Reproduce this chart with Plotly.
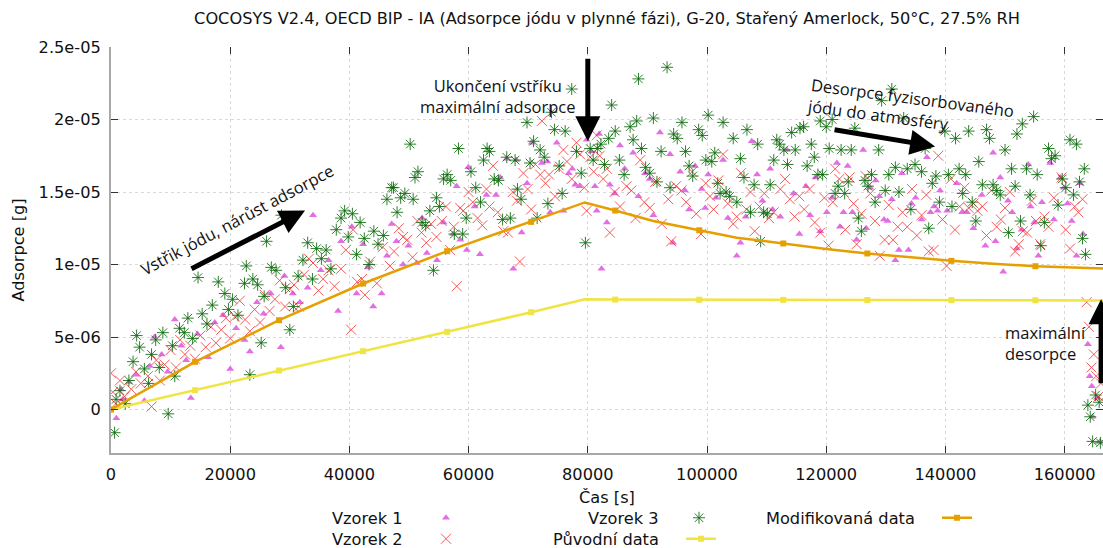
import plotly.graph_objects as go

# ---------------- data (time [s], adsorption [1e-6 g]) ----------------
vzorek1 = [
    (900, -0.6), (1700, 1.4), (2000, 0.7), (3000, 1.9), (4200, 2.4), (5600, 0.6), (6500, 3.0), (7300, 5.0),
    (8500, 3.8), (9500, 2.6), (10700, 6.2), (11800, 4.4), (12600, 3.4), (13400, 0.8), (14500, 5.2), (16300, 3.6),
    (17400, 6.0), (18800, 6.5), (20000, 2.8), (21000, 5.6), (22400, 4.8), (23300, 4.0), (24500, 7.4), (25600, 6.6),
    (26800, 8.0), (28500, 4.3), (29100, 9.2), (30500, 8.0), (31700, 7.4), (33000, 8.4), (33900, 13.4), (35200, 9.6),
    (36500, 10.3), (38100, 6.8), (38600, 11.6), (40400, 12.6), (41200, 8.0), (42300, 11.4), (43100, 9.8), (44000, 7.1),
    (45400, 8.0), (46300, 10.6), (47100, 12.8), (47900, 11.6), (49000, 10.0), (49900, 11.3), (51300, 10.1), (52200, 13.2),
    (53000, 10.8), (54700, 10.3), (55800, 12.9), (57400, 12.1), (58000, 15.4), (58600, 11.7), (59700, 11.0), (59950, 16.7),
    (61000, 14.0), (61900, 10.7), (63000, 14.8), (64600, 14.8), (65300, 16.0), (66400, 17.3), (67500, 9.7), (68000, 17.2),
    (68900, 12.2), (69800, 15.6), (70600, 18.4), (72300, 17.0), (73200, 17.1), (73700, 13.6), (74800, 18.4), (75900, 13.7),
    (76800, 16.3), (77400, 16.6), (77900, 15.5), (78600, 15.4), (79800, 18.6), (80600, 17.8), (81200, 15.4), (81500, 13.7),
    (81900, 19.0), (82300, 9.7), (83200, 12.9), (83700, 15.5), (84500, 14.9), (85400, 18.2), (86200, 16.6), (87600, 17.7),
    (88500, 14.7), (89600, 16.3), (90400, 15.9), (91000, 13.4), (92100, 19.1), (93800, 17.6), (94300, 11.5), (95500, 16.4),
    (96300, 15.1), (97000, 13.8), (98000, 16.8), (99100, 15.2), (99700, 13.9), (100200, 16.2), (101500, 14.6), (102700, 17.2),
    (103500, 13.2), (105000, 10.6), (105600, 11.5), (106500, 13.3), (107500, 18.5), (108400, 16.2), (109300, 14.4), (110600, 16.6),
    (111000, 13.8), (112300, 13.3), (113400, 17.9), (114500, 14.9), (115500, 12.1), (116600, 15.4), (117300, 13.4), (118200, 16.0),
    (119000, 12.3), (120100, 13.6), (121000, 14.6), (121800, 17.0), (122300, 12.6), (122900, 13.6), (123600, 16.8), (124400, 13.6),
    (125100, 11.7), (126200, 17.9), (126700, 12.5), (127400, 15.3), (128300, 15.8), (128900, 14.7), (129700, 13.1), (130300, 13.0),
    (131000, 14.5), (131600, 10.3), (132200, 11.0), (132700, 16.3), (133800, 11.0), (134300, 14.2), (135000, 14.6), (136000, 13.1),
    (136900, 17.4), (137500, 13.6), (138100, 14.0), (138700, 13.7), (139100, 15.1), (140300, 13.7), (141900, 15.6), (142800, 13.6),
    (143600, 13.6), (144700, 12.5), (146100, 14.8), (146700, 11.3), (148000, 17.7), (148400, 11.6), (149200, 16.0), (149700, 9.5),
    (150500, 14.4), (151200, 13.6), (152000, 11.1), (152800, 12.4), (153900, 16.9), (154300, 14.0), (154900, 12.9), (155600, 10.6),
    (156200, 14.3), (157600, 17.0), (158200, 13.1), (159300, 16.0), (159900, 15.3), (160500, 14.2), (161200, 13.0), (162000, 10.6),
    (162600, 15.6), (163100, 12.1), (163900, 4.5), (164200, 2.3), (164560, 1.6), (164700, -0.5), (165400, 0.8), (165950, -2.2),
]

vzorek2 = [
    (0, 2.5), (300, 1.2), (800, 0.4), (1500, 2.0), (2300, 0.9), (3400, 1.4), (4200, 2.6), (5000, 1.8),
    (6200, 2.3), (6800, 0.2), (7600, 3.4), (8200, 2.0), (9000, 3.1), (10000, 4.1), (10900, 2.9), (11600, 4.8),
    (12400, 3.8), (13300, 4.4), (14100, 3.5), (15000, 5.1), (15900, 4.3), (16800, 5.7), (17600, 4.6), (18500, 5.5),
    (19300, 6.3), (20000, 4.9), (20800, 6.4), (21600, 7.5), (22500, 6.2), (23300, 5.4), (24100, 6.9), (25000, 6.0),
    (25800, 7.9), (26600, 6.8), (27500, 7.6), (28300, 8.9), (29200, 7.1), (30000, 8.3), (30700, 8.6), (31500, 7.1),
    (32400, 9.3), (33200, 10.4), (33900, 10.1), (34800, 8.2), (35600, 9.0), (36500, 9.6), (37500, 8.5), (38600, 9.7),
    (39400, 11.0), (40300, 5.5), (40600, 12.4), (41300, 8.8), (42100, 9.0), (42600, 7.9), (43500, 10.2), (44600, 8.7),
    (45600, 11.2), (46800, 9.9), (47500, 10.9), (48300, 12.5), (49000, 11.9), (49700, 11.7), (50600, 10.5), (51400, 13.0),
    (52100, 12.2), (52900, 11.5), (53700, 12.8), (54600, 11.9), (55500, 13.0), (56200, 14.0), (56900, 11.0), (57500, 12.6),
    (58000, 8.5), (58600, 13.9), (59100, 13.7), (60000, 15.0), (60700, 14.3), (61500, 13.2), (62300, 12.7), (63000, 15.2),
    (63500, 14.0), (64100, 16.8), (64900, 13.6), (65800, 12.3), (66600, 12.2), (67400, 15.0), (68100, 14.4), (68600, 10.2),
    (69200, 16.3), (69900, 15.2), (70500, 13.8), (71200, 16.9), (72000, 16.2), (72300, 19.9), (72900, 15.6), (73500, 16.2),
    (74500, 14.7), (75200, 16.6), (75900, 17.9), (76500, 17.1), (77300, 15.9), (78100, 18.4), (78700, 17.6), (79400, 15.3),
    (79800, 13.7), (80400, 17.4), (81000, 16.4), (81500, 18.9), (82000, 17.5), (82600, 15.9), (83200, 16.6), (83700, 12.2),
    (84500, 15.0), (85400, 14.0), (86500, 15.4), (87300, 15.1), (88000, 13.2), (88800, 17.2), (89500, 14.3), (90400, 13.9),
    (91300, 15.7), (92400, 12.8), (93500, 14.5), (94000, 11.6), (94800, 15.4), (95700, 15.1), (96500, 14.3), (97500, 16.4),
    (98200, 13.5), (99000, 12.1), (99800, 15.6), (100500, 14.7), (101100, 13.8), (101900, 15.8), (102700, 17.6), (103500, 14.2),
    (104400, 12.8), (105000, 13.3), (105700, 16.3), (106600, 13.8), (107300, 15.0), (108000, 12.3), (108800, 14.0), (109600, 14.9),
    (110400, 13.2), (111200, 13.6), (112300, 15.2), (113100, 15.9), (113900, 14.5), (114700, 13.3), (115500, 14.7), (116300, 13.8),
    (117200, 15.2), (118100, 12.9), (119000, 12.2), (119700, 14.6), (120400, 11.3), (121100, 14.3), (121500, 16.6), (122200, 15.9),
    (123200, 12.4), (123900, 16.0), (124600, 14.2), (125100, 11.4), (125900, 13.5), (126600, 16.1), (127400, 14.9), (128200, 13.0),
    (129000, 10.6), (129800, 11.7), (130500, 14.1), (131200, 11.7), (132000, 12.6), (132800, 13.6), (133600, 12.6), (134400, 15.2),
    (135200, 12.0), (136000, 13.4), (136800, 14.8), (137200, 10.9), (138000, 11.0), (138800, 17.5), (139500, 13.1), (140200, 9.9),
    (140900, 15.9), (141600, 12.4), (142400, 14.0), (143200, 15.3), (143900, 13.9), (144700, 14.2), (145400, 13.7), (146200, 14.0),
    (146900, 12.0), (147700, 15.1), (148600, 12.6), (149300, 13.1), (150000, 13.9), (150800, 15.0), (151700, 10.9), (152300, 11.4),
    (153000, 12.3), (153700, 12.2), (154500, 14.4), (155200, 13.0), (155900, 11.4), (156600, 13.3), (157300, 12.6), (158200, 14.6),
    (159500, 16.0), (160200, 12.4), (160900, 11.1), (161700, 14.0), (162300, 13.6), (163000, 14.5), (163700, 7.4), (164100, 5.7),
    (164500, 2.9), (164900, 3.8), (165300, 2.3), (165700, 0.9), (166100, 1.8),
]

vzorek3 = [
    (600, -1.6), (850, 0.7), (1500, 1.3), (2400, 0.4), (3000, 2.0), (3700, 3.3), (4300, 5.1), (4800, 4.3),
    (5600, 2.8), (6300, 1.8), (6800, 3.8), (7500, 4.8), (8100, 2.9), (8700, 5.3), (9600, -0.3), (10300, 4.4),
    (10700, 2.3), (11500, 5.6), (12300, 5.3), (12900, 6.3), (13700, 4.9), (14600, 9.1), (15300, 6.6), (16100, 5.9),
    (17000, 7.2), (18000, 8.8), (19100, 8.0), (19700, 6.9), (20400, 7.6), (21300, 6.5), (22400, 8.7), (22700, 9.9),
    (23300, 2.4), (23800, 9.0), (24600, 8.6), (25200, 4.6), (25700, 7.8), (26100, 11.6), (26900, 9.8), (27700, 9.6),
    (28600, 13.4), (29300, 8.4), (30000, 5.5), (30600, 7.1), (31400, 9.2), (32200, 10.3), (33000, 11.5), (33800, 9.0),
    (34500, 11.1), (35300, 10.4), (36100, 11.0), (36900, 9.7), (37800, 12.4), (38600, 13.2), (39200, 13.7), (39800, 11.9),
    (40500, 13.5), (41200, 10.7), (41800, 12.9), (42500, 11.8), (43300, 10.0), (44100, 12.3), (44800, 11.4), (45700, 12.0),
    (46300, 14.5), (47100, 15.3), (47400, 15.3), (48000, 13.6), (48600, 14.6), (49300, 14.9), (50200, 18.3), (50700, 14.5),
    (51000, 16.0), (51500, 16.4), (52200, 12.9), (52800, 12.7), (53500, 13.7), (54100, 9.6), (54600, 14.6), (55100, 14.0),
    (55800, 15.9), (56400, 16.2), (57000, 15.8), (57600, 12.1), (58300, 18.0), (59000, 12.1), (59600, 13.2), (60400, 16.4),
    (61200, 15.3), (62000, 14.3), (62500, 17.2), (63100, 18.0), (63500, 17.8), (64300, 15.9), (65000, 15.8), (65700, 13.1),
    (66400, 17.4), (67000, 13.2), (67800, 17.2), (68200, 15.2), (68800, 14.5), (69800, 19.8), (70300, 17.0), (70900, 18.5),
    (71500, 13.2), (72000, 17.9), (72700, 17.4), (73300, 14.2), (73900, 20.5), (74400, 19.3), (75200, 16.8), (75700, 14.9),
    (76200, 19.2), (77300, 22.1), (78100, 17.8), (78900, 16.3), (79600, 11.5), (80400, 18.0), (80900, 17.2), (81600, 18.0),
    (82200, 18.3), (82800, 16.9), (83500, 18.7), (84000, 21.0), (84600, 19.2), (85300, 17.2), (86100, 16.2), (87100, 19.5),
    (87600, 18.6), (88200, 19.9), (88500, 22.8), (89000, 18.0), (89700, 16.7), (90400, 16.3), (91000, 20.1), (91600, 15.7),
    (92300, 17.8), (93300, 23.6), (93800, 15.3), (94400, 19.0), (95000, 18.7), (95800, 19.8), (96400, 17.8), (97000, 16.8),
    (97600, 16.1), (98600, 19.3), (99200, 18.9), (99800, 17.2), (100200, 20.3), (100800, 17.1), (101300, 17.7), (101800, 15.6),
    (102200, 14.9), (102700, 19.8), (103200, 15.0), (103800, 14.7), (104400, 18.7), (105000, 14.3), (105600, 17.3), (106200, 16.0),
    (106700, 19.3), (107300, 13.6), (107900, 15.5), (108500, 18.3), (109000, 11.6), (109500, 13.6), (110100, 13.5), (110600, 15.5),
    (111200, 17.2), (111700, 18.6), (112200, 18.3), (112900, 17.9), (113500, 16.9), (114200, 19.1), (114800, 17.9), (115600, 19.4),
    (116200, 19.5), (116800, 16.8), (117500, 18.3), (118000, 17.4), (118600, 16.2), (119000, 19.9), (119400, 16.2), (120000, 19.5),
    (120500, 18.0), (121000, 20.0), (121500, 14.9), (122000, 15.4), (122500, 17.9), (123100, 14.9), (123700, 15.7), (124200, 17.9),
    (124800, 19.4), (125400, 13.2), (125900, 12.3), (126500, 15.8), (127000, 15.4), (127600, 16.2), (128200, 14.3), (128800, 17.9),
    (129300, 21.3), (129900, 15.1), (130500, 16.2), (131000, 22.1), (131600, 16.7), (132200, 15.0), (133000, 20.1), (133600, 16.6),
    (134200, 13.8), (134900, 16.9), (135400, 18.3), (136000, 16.4), (136600, 18.0), (137200, 12.5), (137800, 15.6), (138400, 16.1),
    (139000, 14.3), (139900, 19.2), (140500, 16.2), (141100, 14.0), (141700, 18.7), (142300, 16.6), (142900, 14.9), (143400, 16.2),
    (143900, 19.2), (144500, 14.3), (145100, 13.0), (145600, 17.1), (146200, 15.5), (146900, 19.3), (147400, 18.7), (148000, 15.5),
    (148600, 15.1), (149200, 14.8), (150000, 17.9), (150600, 12.2), (151100, 16.6), (151700, 15.4), (152000, 19.0), (152600, 13.0),
    (152900, 19.7), (153600, 16.6), (154200, 14.8), (154800, 20.2), (155400, 16.2), (156000, 11.3), (156600, 12.9), (157300, 18.0),
    (157800, 17.3), (158400, 17.5), (158900, 14.1), (159600, 15.9), (160200, 15.3), (160900, 18.6), (161500, 14.8), (162000, 18.3),
    (162500, 15.7), (163000, 11.8), (163300, 16.6), (163500, 10.7), (163900, 0.3), (164300, -0.5), (164700, -2.2), (165200, 1.0),
    (165800, 0.5), (166000, -2.3),
]

# model curves (time [s], adsorption [1e-6 g])
puvodni_t = [0, 14100, 28200, 42300, 56400, 70500, 79500, 84600, 98700, 112800, 126900, 141000, 155100, 166500]
puvodni_y = [0, 1.33, 2.69, 4.02, 5.36, 6.71, 7.60, 7.58, 7.57, 7.56, 7.55, 7.54, 7.53, 7.52]
puvodni_mark_t = [0, 14100, 28200, 42300, 56400, 70500, 84600, 98700, 112800, 126900, 141000, 155100]
puvodni_mark_y = [0, 1.33, 2.69, 4.02, 5.36, 6.71, 7.58, 7.57, 7.56, 7.55, 7.54, 7.53]

modif_t = [0, 14100, 28200, 42300, 56400, 70500, 79500, 84600, 91000, 98700, 105000, 112800, 120000,
           126900, 134000, 141000, 148000, 155100, 166500]
modif_y = [0, 3.29, 6.16, 8.69, 10.92, 12.94, 14.28, 13.72, 13.00, 12.36, 11.85, 11.45, 11.07,
           10.76, 10.48, 10.25, 10.05, 9.88, 9.72]
modif_mark_t = [0, 14100, 28200, 42300, 56400, 70500, 84600, 98700, 112800, 126900, 141000, 155100]
modif_mark_y = [0, 3.29, 6.16, 8.69, 10.92, 12.94, 13.72, 12.36, 11.45, 10.76, 10.25, 9.88]

x_tick_vals = [0, 20000, 40000, 60000, 80000, 100000, 120000, 140000, 160000]
y_tick_vals = [0, 5e-06, 1e-05, 1.5e-05, 2e-05, 2.5e-05]
y_tick_text = ["0", "5e-06", "1e-05", "1.5e-05", "2e-05", "2.5e-05"]

E6 = 1e-6
W, H = 1103, 548
ML, MR, MT, MB = 111, 0, 47, 95
X_RANGE = [0, 166440]
Y_RANGE = [-3e-06, 2.5e-05]


def px_x(px):
    return (px - ML) / (W - ML - MR)


def px_y(py):
    return (H - MB - py) / (H - MT - MB)


BASE_FONT = "DejaVu Sans, sans-serif"
BASE_SIZE = 16.2
NOTE_FONT = "Open Sans, Noto Sans, sans-serif"
NOTE_SIZE = 16.5
TXT = "#111111"

C_V1 = "#e36ee4"
C_V2 = "rgba(245,50,50,0.8)"
C_V3 = "rgba(10,105,10,0.85)"
C_PUV = "#f0e442"
C_MOD = "#e69f00"

sym_v1 = dict(symbol="triangle-up", size=7, color=C_V1, line=dict(width=0))
sym_v2 = dict(symbol="x-thin-open", size=10, color=C_V2, line=dict(width=1, color=C_V2))
sym_v3 = dict(symbol="asterisk-open", size=10, color=C_V3, line=dict(width=1, color=C_V3))

fig = go.Figure()


def unzip(pairs):
    return [p[0] for p in pairs], [p[1] * E6 for p in pairs]


for name, pairs, mk in [("Vzorek 1", vzorek1, sym_v1), ("Vzorek 2", vzorek2, sym_v2), ("Vzorek 3", vzorek3, sym_v3)]:
    xs, ys = unzip(pairs)
    fig.add_trace(go.Scatter(x=xs, y=ys, mode="markers", name=name, marker=mk, showlegend=False))

for name, t, y, mt, my, col in [
    ("Původní data", puvodni_t, puvodni_y, puvodni_mark_t, puvodni_mark_y, C_PUV),
    ("Modifikovaná data", modif_t, modif_y, modif_mark_t, modif_mark_y, C_MOD),
]:
    fig.add_trace(go.Scatter(x=t, y=[v * E6 for v in y], mode="lines", name=name,
                             line=dict(color=col, width=2.5), showlegend=False))
    fig.add_trace(go.Scatter(x=mt, y=[v * E6 for v in my], mode="markers", name=name,
                             marker=dict(symbol="square", size=6, color=col), showlegend=False))

# mirror ticks (top / right) without border line
fig.add_trace(go.Scatter(x=[None], y=[None], xaxis="x2", yaxis="y2", showlegend=False, hoverinfo="skip"))

# legend samples: one legend per entry, text drawn to the left as in the original
ROW1, ROW2 = 518, 539
legend_entries = [
    ("legend", "Vzorek 1", dict(mode="markers", marker=sym_v1), 446, ROW1, 405),
    ("legend2", "Vzorek 2", dict(mode="markers", marker=sym_v2), 446, ROW2, 405),
    ("legend3", "Vzorek 3", dict(mode="markers", marker=sym_v3), 699, ROW1, 661),
    ("legend4", "Původní data", dict(mode="lines+markers", line=dict(color=C_PUV, width=2.5),
                                      marker=dict(symbol="square", size=6, color=C_PUV)), 701, ROW2, 661),
    ("legend5", "Modifikovaná data", dict(mode="lines+markers", line=dict(color=C_MOD, width=2.5),
                                           marker=dict(symbol="square", size=6, color=C_MOD)), 957, ROW1, 917),
]

annotations = []
layout_legends = {}
for lid, label, style, sx, sy, tx in legend_entries:
    fig.add_trace(go.Scatter(x=[None], y=[None], name=" ", legend=lid, showlegend=True, hoverinfo="skip", **style))
    layout_legends[lid] = dict(x=px_x(sx - 20), y=px_y(sy), xanchor="left", yanchor="middle",
                               bgcolor="rgba(0,0,0,0)", borderwidth=0, font=dict(size=15, family=BASE_FONT),
                               itemwidth=30)
    annotations.append(dict(text=label, xref="paper", yref="paper", x=px_x(tx), y=px_y(sy),
                            xanchor="right", yanchor="middle", showarrow=False,
                            font=dict(size=BASE_SIZE, family=BASE_FONT, color=TXT)))

# text notes
note_font = dict(size=NOTE_SIZE, family=NOTE_FONT, color=TXT)
annotations += [
    dict(text="Vstřik jódu, nárůst adsorpce", xref="paper", yref="paper", x=px_x(237), y=px_y(219),
         xanchor="center", yanchor="middle", textangle=-28, showarrow=False, font=note_font),
    dict(text="Ukončení vstříku<br>maximální adsorpce", xref="paper", yref="paper", x=px_x(498), y=px_y(96),
         xanchor="center", yanchor="middle", showarrow=False, align="center", font=note_font),
    dict(text="Desorpce fyzisorbovaného<br>jódu do atmosféry", xref="paper", yref="paper", x=px_x(911), y=px_y(108),
         xanchor="center", yanchor="middle", textangle=7.5, align="left", showarrow=False, font=note_font),
    dict(text="maximální<br>desorpce", xref="paper", yref="paper", x=px_x(1003), y=px_y(343),
         xanchor="left", yanchor="middle", align="left", showarrow=False, font=note_font),
]

# arrows (tail -> head) in data coordinates
arrows = [
    (13260, 9.66e-6, 32560, 13.72e-6),
    (80000, 24.3e-6, 80000, 18.5e-6),
    (121150, 19.31e-6, 138270, 18.14e-6),
    (166120, 1.7e-6, 166120, 7.6e-6),
]
for ax_, ay_, x_, y_ in arrows:
    annotations.append(dict(x=x_, y=y_, ax=ax_, ay=ay_, xref="x", yref="y", axref="x", ayref="y", text="",
                            showarrow=True, arrowhead=2, arrowsize=1, arrowwidth=5, arrowcolor="black"))

axis_common = dict(showgrid=True, gridcolor="#d9d9d9", griddash="dot", gridwidth=1, zeroline=False,
                   ticks="inside", ticklen=7, tickcolor="#333333", tickwidth=1,
                   showline=True, linecolor="#a8a8a8", linewidth=2,
                   tickfont=dict(size=BASE_SIZE, family=BASE_FONT, color=TXT))

fig.update_layout(
    width=W, height=H,
    margin=dict(l=ML, r=MR, t=MT, b=MB, autoexpand=False),
    plot_bgcolor="white", paper_bgcolor="white",
    title=dict(text="COCOSYS V2.4, OECD BIP - IA (Adsorpce jódu v plynné fázi), G-20, Stařený Amerlock, 50°C, 27.5% RH",
               x=0.5, xref="paper", xanchor="center", y=1 - 18 / H, yref="container", yanchor="middle",
               font=dict(size=BASE_SIZE, family=BASE_FONT, color=TXT)),
    xaxis=dict(range=X_RANGE, tickvals=x_tick_vals, tickformat="d", ticklabelstandoff=6,
               title=dict(text="Čas [s]", font=dict(size=BASE_SIZE, family=BASE_FONT, color=TXT), standoff=8),
               **axis_common),
    yaxis=dict(range=Y_RANGE, tickvals=y_tick_vals, ticktext=y_tick_text, ticklabelstandoff=5,
               title=dict(text="Adsorpce [g]", font=dict(size=BASE_SIZE, family=BASE_FONT, color=TXT), standoff=10),
               **axis_common),
    xaxis2=dict(overlaying="x", side="top", matches="x", range=X_RANGE, tickvals=x_tick_vals,
                showticklabels=False, ticks="inside", ticklen=7, tickcolor="#333333",
                showgrid=False, showline=False, zeroline=False),
    yaxis2=dict(overlaying="y", side="right", matches="y", range=Y_RANGE, tickvals=y_tick_vals,
                showticklabels=False, ticks="inside", ticklen=7, tickcolor="#333333",
                showgrid=False, showline=False, zeroline=False),
    annotations=annotations,
    **layout_legends,
)

fig.write_html("out.html", config={"displayModeBar": False},
               post_script="document.body.style.margin='0';document.body.style.overflow='hidden';")
